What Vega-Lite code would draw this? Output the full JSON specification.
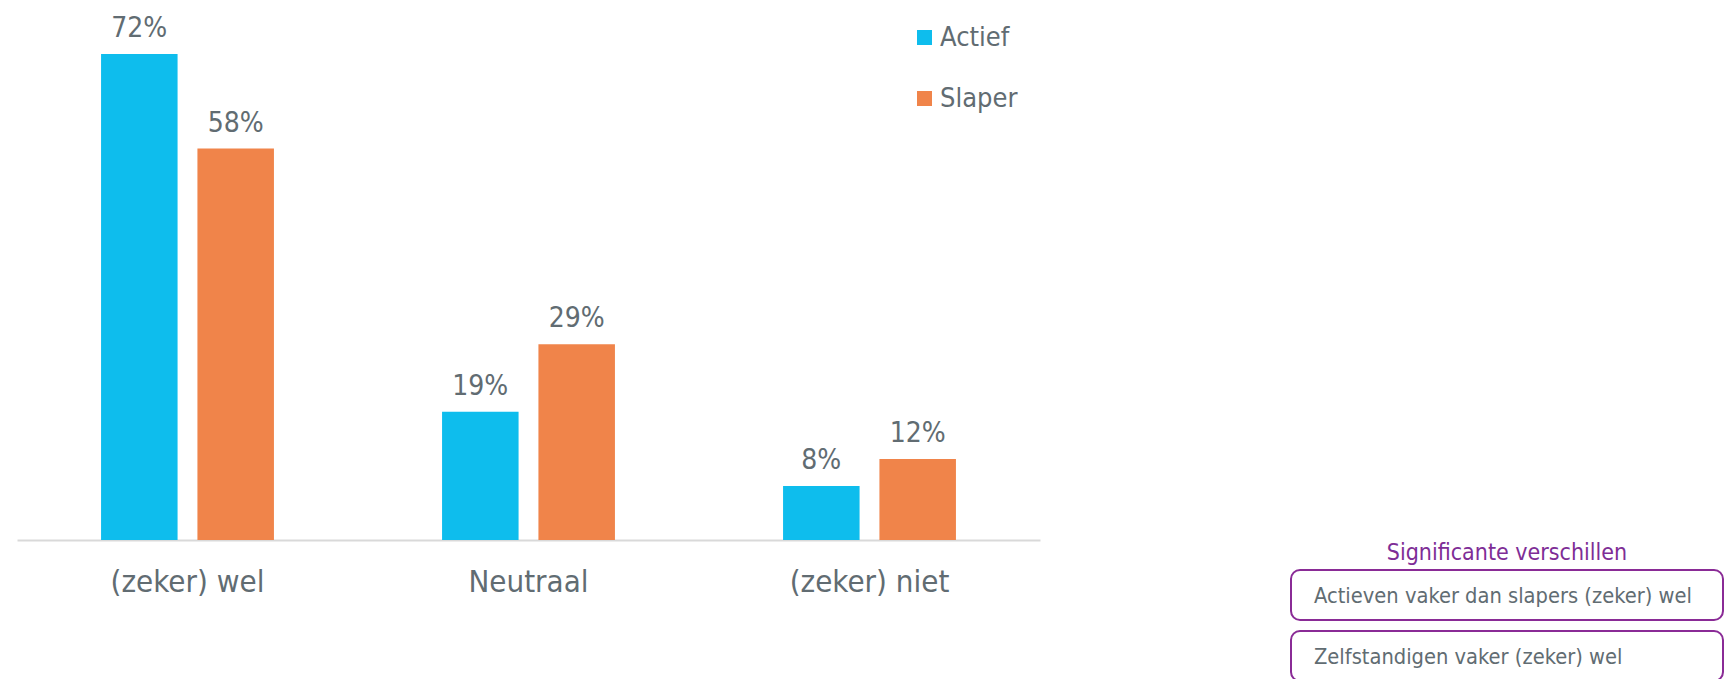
{
  "$schema": "https://vega.github.io/schema/vega-lite/v6.json",
  "autosize": {"type": "pad"},
  "padding": {"left": 17, "top": 0, "right": 0, "bottom": 0},
  "background": "white",
  "bounds": "flush",
  "spacing": 251,
  "config": {
    "view": {"stroke": null},
    "font": "DejaVu Sans Condensed"
  },
  "hconcat": [
    {
      "width": 1023,
      "height": 540,
      "data": {
        "values": [
          {"cat": "(zeker) wel", "group": "Actief", "value": 0.72},
          {"cat": "(zeker) wel", "group": "Slaper", "value": 0.58},
          {"cat": "Neutraal", "group": "Actief", "value": 0.19},
          {"cat": "Neutraal", "group": "Slaper", "value": 0.29},
          {"cat": "(zeker) niet", "group": "Actief", "value": 0.08},
          {"cat": "(zeker) niet", "group": "Slaper", "value": 0.12}
        ]
      },
      "encoding": {
        "x": {
          "field": "cat",
          "type": "nominal",
          "sort": ["(zeker) wel", "Neutraal", "(zeker) niet"],
          "scale": {"paddingInner": 0.493, "paddingOuter": 0.2465},
          "title": null,
          "axis": {
            "domainColor": "#D9D9D9",
            "domainWidth": 2,
            "ticks": false,
            "grid": false,
            "labelAngle": 0,
            "labelFont": "DejaVu Sans Condensed",
            "labelFontSize": 31,
            "labelColor": "#616C72",
            "labelPadding": 51,
            "labelBaseline": "alphabetic"
          }
        },
        "xOffset": {
          "field": "group",
          "type": "nominal",
          "sort": ["Actief", "Slaper"],
          "scale": {"paddingInner": 0.206, "paddingOuter": 0}
        },
        "y": {
          "field": "value",
          "type": "quantitative",
          "scale": {"domain": [0, 0.8]},
          "axis": null
        }
      },
      "layer": [
        {
          "mark": {"type": "bar"},
          "encoding": {
            "color": {
              "field": "group",
              "type": "nominal",
              "scale": {"domain": ["Actief", "Slaper"], "range": ["#0EBDED", "#F0844A"]},
              "legend": {
                "title": null,
                "orient": "none",
                "legendX": 894,
                "legendY": 24,
                "padding": 0,
                "symbolType": "square",
                "symbolSize": 225,
                "symbolStrokeWidth": 0,
                "labelFont": "DejaVu Sans Condensed",
                "labelFontSize": 27,
                "labelColor": "#616C72",
                "labelOffset": 2,
                "rowPadding": 33
              }
            }
          }
        },
        {
          "mark": {
            "type": "text",
            "baseline": "alphabetic",
            "dy": -17,
            "font": "DejaVu Sans Condensed",
            "fontSize": 28,
            "color": "#616C72"
          },
          "encoding": {
            "text": {"field": "value", "type": "quantitative", "format": ".0%"}
          }
        }
      ]
    },
    {
      "width": 432,
      "height": 679,
      "data": {
        "values": [
          {"item": "Significante verschillen", "kind": "title"},
          {"item": "Actieven vaker dan slapers (zeker) wel", "kind": "box"},
          {"item": "Zelfstandigen vaker (zeker) wel", "kind": "box"}
        ]
      },
      "encoding": {
        "y": {
          "field": "item",
          "type": "nominal",
          "scale": {
            "domain": ["Significante verschillen", "Actieven vaker dan slapers (zeker) wel", "Zelfstandigen vaker (zeker) wel"],
            "range": [509, 681],
            "paddingInner": 0.18,
            "paddingOuter": 0
          },
          "axis": null
        }
      },
      "layer": [
        {
          "transform": [{"filter": "datum.kind === 'box'"}],
          "mark": {"type": "rect", "fill": "white", "stroke": "#8A2B96", "strokeWidth": 2, "cornerRadius": 9}
        },
        {
          "transform": [{"filter": "datum.kind === 'box'"}],
          "mark": {
            "type": "text",
            "align": "left",
            "baseline": "middle",
            "dx": -193,
            "dy": 1,
            "font": "DejaVu Sans Condensed",
            "fontSize": 21.7,
            "color": "#616C72"
          },
          "encoding": {"text": {"field": "item", "type": "nominal"}}
        },
        {
          "transform": [{"filter": "datum.kind === 'title'"}],
          "mark": {
            "type": "text",
            "align": "center",
            "baseline": "alphabetic",
            "dy": 1,
            "font": "DejaVu Sans Condensed",
            "fontSize": 23,
            "color": "#7E2D96"
          },
          "encoding": {
            "y": {"field": "item", "type": "nominal", "bandPosition": 1},
            "text": {"field": "item", "type": "nominal"}
          }
        }
      ]
    }
  ]
}
